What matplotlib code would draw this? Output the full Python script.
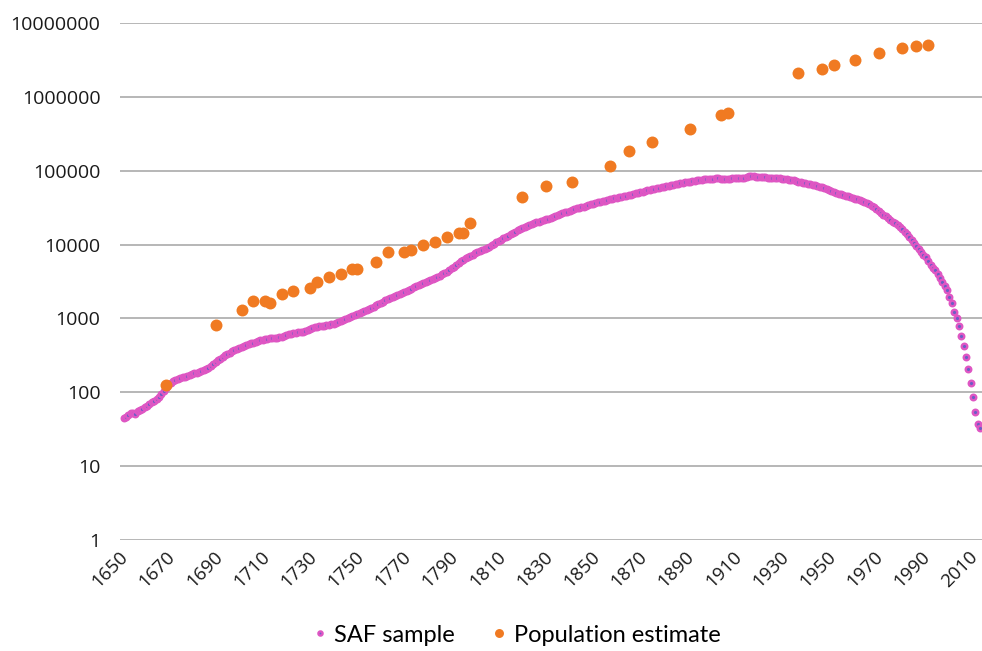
import numpy as np
import matplotlib
matplotlib.use("Agg")
import matplotlib.pyplot as plt
from matplotlib.transforms import ScaledTranslation

# ── Data ──────────────────────────────────────────────────────────────────────
saf_first_year = 1649
saf_sample = [
    45,                                                            # 1649
    47, 50, 52, 52, 51, 55, 58, 60, 63, 66,                        # 1650-1659
    70, 73, 76, 80, 85, 95, 105, 115, 125, 133,                    # 1660s
    140, 146, 150, 155, 160, 163, 167, 172, 177, 181,              # 1670s
    185, 190, 196, 202, 208, 215, 225, 240, 255, 270,              # 1680s
    285, 300, 315, 330, 345, 360, 372, 385, 398, 410,              # 1690s
    420, 432, 445, 458, 470, 482, 495, 505, 515, 525,              # 1700s
    532, 538, 540, 542, 545, 555, 565, 578, 595, 610,              # 1710s
    620, 630, 640, 648, 656, 665, 680, 700, 720, 740,              # 1720s
    758, 772, 782, 792, 800, 808, 815, 830, 850, 870,              # 1730s
    895, 920, 950, 985, 1020, 1060, 1090, 1120, 1150, 1185,        # 1740s
    1220, 1265, 1310, 1355, 1400, 1450, 1500, 1560, 1620, 1690,    # 1750s
    1760, 1830, 1900, 1970, 2030, 2090, 2150, 2210, 2280, 2350,    # 1760s
    2430, 2530, 2630, 2740, 2850, 2960, 3050, 3150, 3250, 3350,    # 1770s
    3450, 3550, 3650, 3800, 3950, 4100, 4300, 4500, 4750, 5000,    # 1780s
    5300, 5600, 5900, 6200, 6500, 6750, 7000, 7300, 7600, 7900,    # 1790s
    8200, 8500, 8800, 9100, 9400, 9800, 10200, 10700, 11200, 11700,         # 1800s
    12200, 12700, 13200, 13800, 14400, 15000, 15600, 16200, 16800, 17400,   # 1810s
    18000, 18500, 19000, 19500, 20000, 20500, 21000, 21500, 22000, 22500,   # 1820s
    23100, 23800, 24500, 25200, 25900, 26600, 27300, 28000, 28800, 29500,   # 1830s
    30200, 30800, 31400, 32000, 32700, 33500, 34300, 35000, 35800, 36500,   # 1840s
    37300, 38000, 38800, 39500, 40300, 41000, 41700, 42400, 43100, 43800,   # 1850s
    44500, 45300, 46000, 46800, 47600, 48500, 49400, 50300, 51200, 52100,   # 1860s
    53000, 54000, 55000, 56000, 57000, 58000, 59000, 60000, 61000, 62000,   # 1870s
    63000, 64000, 65000, 66000, 67000, 67800, 68600, 69400, 70200, 71000,   # 1880s
    72000, 73000, 74000, 74800, 75500, 76200, 77000, 77600, 78000, 78300,   # 1890s
    78500, 78500, 77500, 77000, 77500, 78000, 78300, 78500, 78600, 78700,   # 1900s
    78800, 79000, 80000, 82000, 84000, 85000, 84000, 82000, 81000, 81000,   # 1910s
    81000, 81000, 80500, 80000, 80000, 79500, 79000, 78500, 78000, 77500,   # 1920s
    77000, 76000, 75000, 74000, 72500, 71000, 70000, 69000, 68000, 67000,   # 1930s
    66000, 65000, 63500, 62000, 61000, 59500, 58000, 56500, 55000, 53500,   # 1940s
    52000, 50500, 49000, 48000, 47000, 46000, 45000, 44000, 43000, 42000,   # 1950s
    41000, 40000, 38800, 37600, 36400, 35000, 33500, 32000, 30300, 28600,   # 1960s
    27000, 25500, 24200, 22800, 21500, 20500, 19500, 18500, 17500, 16200,   # 1970s
    15000, 13800, 12600, 11500, 10500, 9600, 8800, 8000, 7300, 6800,       # 1980s
    6000, 5300, 4800, 4500, 4000, 3500, 3100, 2750, 2400, 1950,            # 1990s
    1600, 1220, 1000, 800, 580, 420, 300, 205, 132, 87,                    # 2000s
    54, 37, 33,                                                            # 2010-2012
]
saf_years = np.arange(saf_first_year, saf_first_year + len(saf_sample))

pop_years = [1667, 1688, 1699, 1704, 1709, 1711, 1716, 1721, 1728, 1731,
             1736, 1741, 1746, 1748, 1756, 1761, 1768, 1771, 1776, 1781,
             1786, 1791, 1793, 1796, 1818, 1828, 1839, 1855, 1863, 1873,
             1889, 1902, 1905, 1935, 1945, 1950, 1959, 1969, 1979, 1985,
             1990]
pop_estimate = [125, 810, 1300, 1700, 1700, 1620, 2120, 2340, 2600, 3080,
                3600, 4000, 4700, 4700, 5800, 8000, 8000, 8450, 10000, 11000,
                12700, 14400, 14400, 19800, 44500, 62000, 71000, 115000, 186000, 245000,
                370000, 570000, 600000, 2100000, 2400000, 2700000, 3200000, 3900000, 4600000, 4900000,
                5000000]

x_ticks = list(range(1650, 2011, 20))
y_ticks = [1, 10, 100, 1000, 10000, 100000, 1000000, 10000000]

PINK = "#de56c3"
PINK_CORE = "#6a5fc6"
ORANGE = "#f07a22"
GRID = "#a3a3a3"

# ── Figure ────────────────────────────────────────────────────────────────────
fig = plt.figure(figsize=(9.82, 6.51), dpi=100)
ax = fig.add_axes([120 / 982, 111 / 651, 862 / 982, 517 / 651])

ax.plot(saf_years, saf_sample, ls="none", marker="o", ms=4.0, mew=1.7,
        mfc=PINK_CORE, mec=PINK, label="SAF sample", zorder=3)
ax.plot(pop_years, pop_estimate, ls="none", marker="o", ms=8.6, mew=0,
        color=ORANGE, label="Population estimate", zorder=4)

ax.set_yscale("log")
ax.set_ylim(1, 10000000)
ax.set_xlim(1647.5, 2012.8)
ax.set_yticks(y_ticks)
ax.set_yticklabels([str(v) for v in y_ticks], fontfamily="Open Sans", fontsize=14)
ax.yaxis.set_minor_locator(matplotlib.ticker.NullLocator())
ax.set_xticks(x_ticks)
ax.set_xticklabels([])
ax.tick_params(axis="y", length=0, pad=14, colors="#1a1a1a")
ax.tick_params(axis="x", length=0)

# rotated year labels, set a little left of their tick as in the original
lbl_tr = ax.get_xaxis_transform() + ScaledTranslation(-7 / 100, -8 / 100, fig.dpi_scale_trans)
for yr in x_ticks:
    ax.text(yr, 0, str(yr), transform=lbl_tr, fontfamily="Open Sans", fontsize=13.5,
            color="#1a1a1a", rotation=45, ha="right", va="top", rotation_mode="anchor")

ax.grid(axis="y", color=GRID, lw=1.1)
ax.set_axisbelow(True)
for s in ax.spines.values():
    s.set_visible(False)

leg = fig.legend(loc="center", bbox_to_anchor=(514 / 982, 16 / 651), ncol=2,
                 frameon=False, prop={"family": "Lato", "size": 17},
                 handletextpad=0.1, columnspacing=1.4, handlelength=1.0,
                 markerscale=0.75)

fig.savefig("out.png", dpi=100)
